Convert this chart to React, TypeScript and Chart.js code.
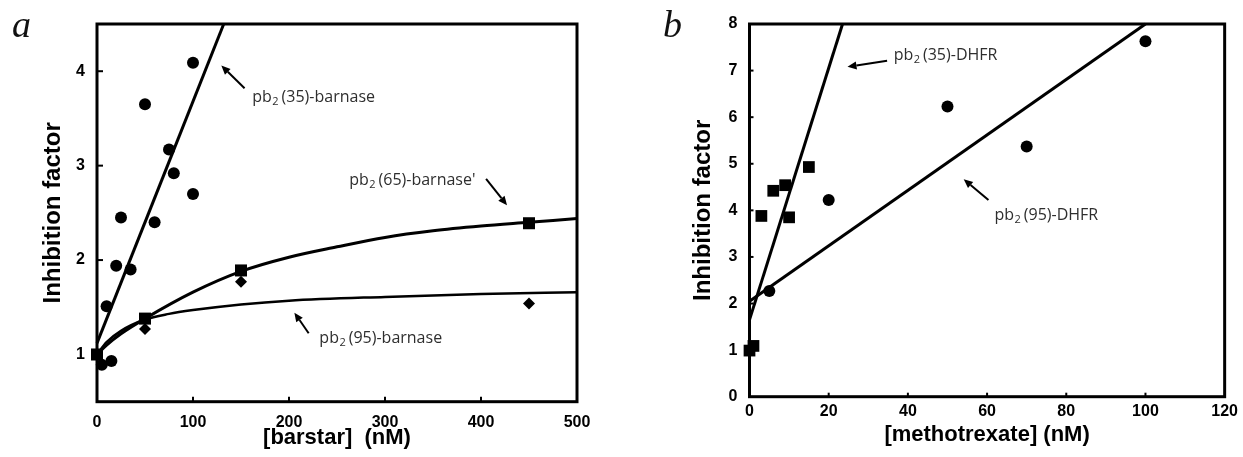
import React, { useEffect, useRef } from "react";
import { Chart, registerables } from "chart.js";
Chart.register(...registerables);

// ---------- Panel a : barstar titration ----------
const barstarTickMarks = [100, 200, 300, 400];
const inhibitionTicksA = [1, 2, 3, 4];
const pb35BarnaseX = [5, 10, 15, 20, 25, 35, 50, 60, 75, 80, 100, 100];
const pb35BarnaseY = [0.89, 1.51, 0.93, 1.94, 2.45, 1.9, 3.65, 2.4, 3.17, 2.92, 4.09, 2.7];
const pb65BarnaseX = [0, 50, 150, 450];
const pb65BarnaseY = [1.0, 1.38, 1.89, 2.39];
const pb95BarnaseX = [50, 150, 450];
const pb95BarnaseY = [1.27, 1.77, 1.54];
const pb35BarnaseFitX = [0, 132];
const pb35BarnaseFitY = [1.12, 4.5];
const pb65BarnaseFitX = [0, 10, 25, 50, 100, 150, 200, 250, 300, 350, 400, 450, 500];
const pb65BarnaseFitY = [1.0, 1.1, 1.22, 1.38, 1.66, 1.88, 2.03, 2.14, 2.24, 2.31, 2.36, 2.4, 2.44];
const pb95BarnaseFitX = [0, 10, 25, 50, 75, 100, 150, 200, 300, 400, 500];
const pb95BarnaseFitY = [1.0, 1.13, 1.25, 1.37, 1.43, 1.47, 1.53, 1.57, 1.61, 1.64, 1.66];

// ---------- Panel b : methotrexate titration ----------
const mtxTickMarks = [20, 40, 60, 80, 100];
const inhibitionTicksB = [0, 1, 2, 3, 4, 5, 6, 7, 8];
const inhibitionTickMarksB = [1, 2, 3, 4, 5, 6, 7];
const pb35DhfrX = [0, 1, 3, 6, 9, 10, 15];
const pb35DhfrY = [0.99, 1.09, 3.88, 4.42, 4.54, 3.85, 4.93];
const pb95DhfrX = [5, 20, 50, 70, 100];
const pb95DhfrY = [2.27, 4.22, 6.23, 5.37, 7.63];
const pb35DhfrFitX = [0, 23.5];
const pb35DhfrFitY = [1.65, 8];
const pb95DhfrFitX = [0, 100];
const pb95DhfrFitY = [2.05, 8];

// annotation labels (text parts) and anchors in data units
const notesA = [
  { parts: ["pb", "2", "(35)-barnase"], tx: 161.7, ty: 3.725, ax: 153.7, ay: 3.82, hx: 129.5, hy: 4.06 },
  { parts: ["pb", "2", "(65)-barnase'"], tx: 262.7, ty: 2.845, ax: 405.3, ay: 2.86, hx: 427.1, hy: 2.58 },
  { parts: ["pb", "2", "(95)-barnase"], tx: 231.6, ty: 1.172, ax: 220.5, ay: 1.225, hx: 205.6, hy: 1.443 },
];
const notesB = [
  { parts: ["pb", "2", "(35)-DHFR"], tx: 36.4, ty: 7.335, ax: 34.75, ay: 7.21, hx: 24.75, hy: 7.08 },
  { parts: ["pb", "2", "(95)-DHFR"], tx: 61.85, ty: 3.9, ax: 60.35, ay: 4.22, hx: 54.1, hy: 4.67 },
];

const toPts = (xs: number[], ys: number[]) => xs.map((x, i) => ({ x, y: ys[i] }));

const TICK_FONT = { family: '"Liberation Sans", Arial, sans-serif', size: 16, weight: "bold" as const };
const XTITLE_FONT = { family: '"Liberation Sans", Arial, sans-serif', size: 22, weight: "bold" as const };
const YTITLE_FONT = { family: '"Liberation Sans", Arial, sans-serif', size: 24, weight: "bold" as const };
const NOTE_FONT = '"Open Sans", "Noto Sans", sans-serif';

function drawArrow(ctx: CanvasRenderingContext2D, x0: number, y0: number, x1: number, y1: number) {
  const ang = Math.atan2(y1 - y0, x1 - x0);
  const len = 9;
  const half = 4;
  const bx = x1 - Math.cos(ang) * len;
  const by = y1 - Math.sin(ang) * len;
  ctx.strokeStyle = "#000";
  ctx.fillStyle = "#000";
  ctx.lineWidth = 2;
  ctx.beginPath();
  ctx.moveTo(x0, y0);
  ctx.lineTo(bx, by);
  ctx.stroke();
  ctx.beginPath();
  ctx.moveTo(x1, y1);
  ctx.lineTo(bx + Math.sin(ang) * half, by - Math.cos(ang) * half);
  ctx.lineTo(bx - Math.sin(ang) * half, by + Math.cos(ang) * half);
  ctx.closePath();
  ctx.fill();
}

function drawNote(ctx: CanvasRenderingContext2D, x: number, yc: number, parts: string[]) {
  const base = yc + 5;
  ctx.fillStyle = "#2e2e2e";
  ctx.textBaseline = "alphabetic";
  ctx.textAlign = "left";
  ctx.font = `16px ${NOTE_FONT}`;
  ctx.fillText(parts[0], x, base);
  let w = ctx.measureText(parts[0]).width;
  ctx.font = `11px ${NOTE_FONT}`;
  ctx.fillText(parts[1], x + w + 0.5, base + 3);
  w += ctx.measureText(parts[1]).width + 3.5;
  ctx.font = `16px ${NOTE_FONT}`;
  ctx.fillText(parts[2], x + w, base);
}

function framePlugin(cfg: {
  id: string;
  letter: string;
  letterX: number;
  xMarks: number[];
  yMarks: number[];
  xLen: number;
  yLen: number;
  notes: typeof notesA;
}) {
  return {
    id: cfg.id,
    afterDraw(chart: any) {
      const { ctx, chartArea: ca } = chart;
      const xs = chart.scales.x;
      const ys = chart.scales.y;
      ctx.save();
      ctx.strokeStyle = "#000";
      ctx.lineWidth = 3;
      ctx.strokeRect(ca.left, ca.top, ca.right - ca.left, ca.bottom - ca.top);
      ctx.lineWidth = 2;
      cfg.xMarks.forEach((v) => {
        const px = xs.getPixelForValue(v);
        ctx.beginPath();
        ctx.moveTo(px, ca.bottom);
        ctx.lineTo(px, ca.bottom - cfg.xLen);
        ctx.stroke();
      });
      cfg.yMarks.forEach((v) => {
        const py = ys.getPixelForValue(v);
        ctx.beginPath();
        ctx.moveTo(ca.left, py);
        ctx.lineTo(ca.left + cfg.yLen, py);
        ctx.stroke();
      });
      cfg.notes.forEach((n) => {
        drawArrow(ctx, xs.getPixelForValue(n.ax), ys.getPixelForValue(n.ay), xs.getPixelForValue(n.hx), ys.getPixelForValue(n.hy));
        drawNote(ctx, xs.getPixelForValue(n.tx), ys.getPixelForValue(n.ty), n.parts);
      });
      ctx.fillStyle = "#111";
      ctx.font = 'italic 38px "Liberation Serif", "DejaVu Serif", serif';
      ctx.textBaseline = "alphabetic";
      ctx.textAlign = "left";
      ctx.fillText(cfg.letter, cfg.letterX, 37);
      ctx.restore();
    },
  };
}

function scatterSet(data: any[], style: string, radius: number) {
  return {
    type: "scatter" as const,
    data,
    pointStyle: style,
    pointRadius: radius,
    pointHoverRadius: radius,
    pointBackgroundColor: "#000",
    pointBorderColor: "#000",
    pointBorderWidth: 0,
    showLine: false,
    clip: false as any,
  };
}

function lineSet(data: any[], width: number) {
  return {
    type: "line" as const,
    data,
    borderColor: "#000",
    borderWidth: width,
    pointRadius: 0,
    fill: false,
    cubicInterpolationMode: "monotone" as const,
    clip: false as any,
  };
}

function baseOptions(o: {
  xMin: number; xMax: number; xStep: number;
  yMin: number; yMax: number; yTicks: number[];
  yWidth: number; xHeight: number; padRight: number;
  yTitlePad: number; xTitlePad: number; xTickPad: number; yTickPad: number;
  xTitle: string;
}) {
  return {
    responsive: false,
    animation: false as const,
    events: [] as any[],
    layout: { padding: { top: 24, right: o.padRight, bottom: 0, left: 0 } },
    plugins: { legend: { display: false }, tooltip: { enabled: false } },
    scales: {
      x: {
        type: "linear" as const,
        min: o.xMin,
        max: o.xMax,
        ticks: { stepSize: o.xStep, padding: o.xTickPad, font: TICK_FONT, color: "#000", maxRotation: 0, autoSkip: false },
        grid: { display: false, drawTicks: false },
        border: { display: false },
        title: { display: true, text: o.xTitle, font: XTITLE_FONT, color: "#000", padding: { top: 0, bottom: o.xTitlePad } },
        afterFit: (s: any) => { s.height = o.xHeight; },
      },
      y: {
        type: "linear" as const,
        min: o.yMin,
        max: o.yMax,
        ticks: { padding: o.yTickPad, font: TICK_FONT, color: "#000", autoSkip: false },
        afterBuildTicks: (s: any) => { s.ticks = o.yTicks.map((v) => ({ value: v })); },
        grid: { display: false, drawTicks: false },
        border: { display: false },
        title: { display: true, text: "Inhibition factor", font: YTITLE_FONT, color: "#000", padding: { top: o.yTitlePad, bottom: 0 } },
        afterFit: (s: any) => { s.width = o.yWidth; },
      },
    },
  };
}

function PanelA() {
  const ref = useRef<HTMLCanvasElement>(null);
  useEffect(() => {
    const chart = new Chart(ref.current as HTMLCanvasElement, {
      type: "scatter",
      data: {
        datasets: [
          lineSet(toPts(pb35BarnaseFitX, pb35BarnaseFitY), 3),
          lineSet(toPts(pb65BarnaseFitX, pb65BarnaseFitY), 3),
          lineSet(toPts(pb95BarnaseFitX, pb95BarnaseFitY), 2.5),
          scatterSet(toPts(pb35BarnaseX, pb35BarnaseY), "circle", 6),
          scatterSet(toPts(pb95BarnaseX, pb95BarnaseY), "rectRot", 6),
          scatterSet(toPts(pb65BarnaseX, pb65BarnaseY), "rect", 8.5),
        ] as any,
      },
      options: baseOptions({
        xMin: 0, xMax: 500, xStep: 100,
        yMin: 0.5, yMax: 4.5, yTicks: inhibitionTicksA,
        yWidth: 97, xHeight: 55.3, padRight: 43,
        yTitlePad: 39, xTitlePad: 6, xTickPad: 11, yTickPad: 12,
        xTitle: "[barstar]  (nM)",
      }) as any,
      plugins: [framePlugin({ id: "frameA", letter: "a", letterX: 12, xMarks: barstarTickMarks, yMarks: inhibitionTicksA, xLen: 5, yLen: 6, notes: notesA })],
    });
    return () => chart.destroy();
  }, []);
  return <canvas ref={ref} width={620} height={457} style={{ position: "absolute", left: 0, top: 0, width: 620, height: 457 }} />;
}

function PanelB() {
  const ref = useRef<HTMLCanvasElement>(null);
  useEffect(() => {
    const chart = new Chart(ref.current as HTMLCanvasElement, {
      type: "scatter",
      data: {
        datasets: [
          lineSet(toPts(pb35DhfrFitX, pb35DhfrFitY), 3),
          lineSet(toPts(pb95DhfrFitX, pb95DhfrFitY), 3),
          scatterSet(toPts(pb95DhfrX, pb95DhfrY), "circle", 6),
          scatterSet(toPts(pb35DhfrX, pb35DhfrY), "rect", 8.3),
        ] as any,
      },
      options: baseOptions({
        xMin: 0, xMax: 120, xStep: 20,
        yMin: 0, yMax: 8, yTicks: inhibitionTicksB,
        yWidth: 129.5, xHeight: 60.3, padRight: 15,
        yTitlePad: 69, xTitlePad: 9, xTickPad: 5, yTickPad: 12,
        xTitle: "[methotrexate] (nM)",
      }) as any,
      plugins: [framePlugin({ id: "frameB", letter: "b", letterX: 43, xMarks: mtxTickMarks, yMarks: inhibitionTickMarksB, xLen: 4, yLen: 4, notes: notesB })],
    });
    return () => chart.destroy();
  }, []);
  return <canvas ref={ref} width={623} height={457} style={{ position: "absolute", left: 620, top: 0, width: 623, height: 457 }} />;
}

export default function App() {
  return (
    <div style={{ position: "absolute", left: 0, top: 0, width: 1243, height: 457, background: "#fff", overflow: "hidden" }}>
      <PanelA />
      <PanelB />
    </div>
  );
}
